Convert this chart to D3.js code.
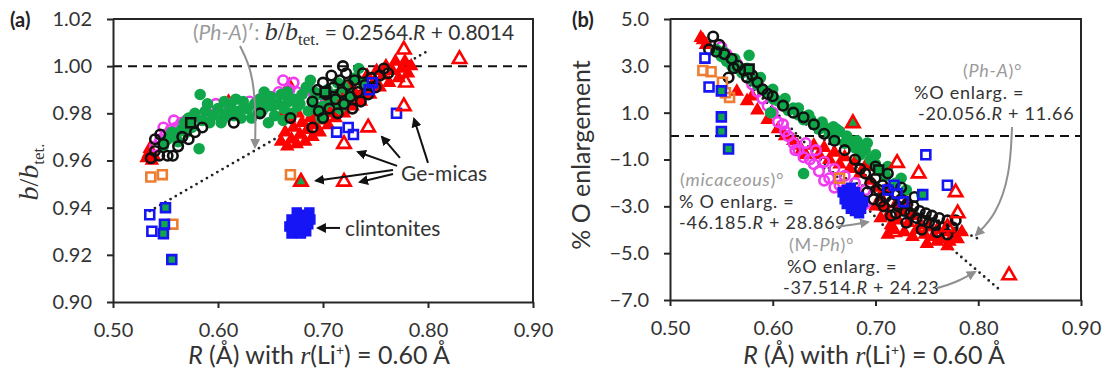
<!DOCTYPE html>
<html><head><meta charset="utf-8">
<script src="https://cdn.jsdelivr.net/npm/d3@7"></script>
<style>body{margin:0;background:#fff}svg{display:block}</style>
</head><body>
<svg id="chart" width="1104" height="376"></svg>
<script>
// ---------- tick values ----------
const xTicks = [0.50, 0.60, 0.70, 0.80, 0.90];
const aTicks = [0.90, 0.92, 0.94, 0.96, 0.98, 1.00, 1.02];
const bTicks = [-7, -5, -3, -1, 1, 3, 5];

// ---------- panel (a): b/b_tet. versus R ----------
const aRedTri = [[0.532,0.961],[0.534,0.963],[0.535,0.965],[0.537,0.960],[0.539,0.962],[0.610,0.985],
 [0.660,0.968],[0.664,0.972],[0.666,0.966],[0.670,0.969],[0.672,0.974],[0.675,0.967],[0.678,0.971],[0.680,0.976],
 [0.683,0.968],[0.685,0.973],[0.688,0.978],[0.690,0.970],[0.692,0.975],[0.695,0.980],[0.697,0.972],[0.700,0.977],
 [0.702,0.983],[0.705,0.975],[0.707,0.980],[0.710,0.986],[0.712,0.978],[0.715,0.983],[0.718,0.989],[0.720,0.980],
 [0.723,0.986],[0.726,0.992],[0.728,0.983],[0.731,0.988],[0.734,0.994],[0.736,0.985],[0.739,0.990],[0.742,0.996],
 [0.745,0.988],[0.748,0.993],[0.751,0.998],[0.754,0.991],[0.757,0.996],[0.760,1.000],[0.763,0.993],[0.766,0.998],
 [0.769,1.002],[0.772,0.995],[0.775,0.999],[0.778,1.002],[0.781,0.997],[0.784,1.000],[0.668,0.978],[0.676,0.980],
 [0.662,0.980],[0.668,0.992]];
const aMagenta = [[0.540,0.966],[0.545,0.969],[0.550,0.971],[0.555,0.973],[0.560,0.974],[0.565,0.976],[0.570,0.977],
 [0.575,0.978],[0.590,0.980],[0.600,0.981],[0.610,0.984],[0.620,0.983],[0.630,0.985],[0.640,0.986],[0.650,0.987],
 [0.658,0.989],[0.662,0.994],[0.668,0.990],[0.675,0.989],[0.685,0.991],[0.694,0.986],[0.700,0.988],[0.598,0.984],
 [0.635,0.981],[0.645,0.983],[0.548,0.974],[0.558,0.977],[0.568,0.973],[0.580,0.979],[0.615,0.980],[0.655,0.985],
 [0.672,0.993],[0.690,0.989]];
const aGreen = [[0.548,0.966],[0.552,0.969],[0.556,0.972],[0.560,0.970],[0.565,0.973],[0.568,0.976],[0.572,0.978],
 [0.575,0.974],[0.578,0.980],[0.582,0.965],[0.583,0.988],[0.585,0.977],[0.588,0.981],[0.592,0.976],[0.595,0.979],
 [0.600,0.982],[0.605,0.978],[0.608,0.980],[0.612,0.983],[0.615,0.979],[0.620,0.981],[0.624,0.985],[0.628,0.982],
 [0.632,0.978],[0.635,0.984],[0.640,0.986],[0.642,0.981],[0.646,0.983],[0.650,0.987],[0.654,0.979],[0.657,0.984],
 [0.660,0.988],[0.663,0.982],[0.667,0.985],[0.670,0.980],[0.673,0.986],[0.676,0.983],[0.680,0.988],[0.684,0.991],
 [0.688,0.994],[0.690,0.985],[0.694,0.982],[0.697,0.988],[0.700,0.983],[0.704,0.990],[0.708,0.985],[0.712,0.988],
 [0.716,0.982],[0.720,0.991],[0.725,0.988],[0.730,0.995],[0.734,0.999],[0.738,0.993],[0.603,0.976],[0.617,0.986],
 [0.638,0.980],[0.648,0.976],[0.662,0.977],[0.686,0.981],[0.698,0.978],[0.590,0.984],[0.606,0.985],[0.622,0.978],
 [0.644,0.989],[0.652,0.983],[0.666,0.989],[0.678,0.984],[0.692,0.989],[0.706,0.987],[0.714,0.993],[0.722,0.985],
 [0.570,0.972],[0.562,0.968]];
const aBlackCirc = [[0.536,0.961],[0.540,0.964],[0.544,0.962],[0.548,0.967],[0.552,0.962],[0.557,0.962],[0.562,0.966],
 [0.566,0.970],[0.572,0.969],[0.578,0.972],[0.585,0.974],[0.540,0.969],[0.545,0.971],[0.615,0.976],[0.640,0.980],
 [0.669,0.978],[0.690,0.974],[0.690,0.985],[0.695,0.990],[0.700,0.993],[0.703,0.988],[0.706,0.982],[0.708,0.996],
 [0.710,0.991],[0.712,0.986],[0.714,0.980],[0.716,0.994],[0.718,0.989],[0.720,0.984],[0.722,0.997],[0.724,0.992],
 [0.726,0.987],[0.728,0.982],[0.730,0.994],[0.733,0.989],[0.736,0.985],[0.738,0.997],[0.740,0.992],[0.743,0.988],
 [0.746,0.995],[0.750,0.991],[0.754,0.996],[0.758,0.999],[0.762,0.997],[0.700,0.978],[0.696,0.981],[0.719,1.000]];
const aBlackSq = [[0.574,0.976],[0.702,0.989]];
const aBlueSq = [[0.535,0.937],[0.537,0.930],[0.713,0.972],[0.724,0.974],[0.729,0.971],[0.770,0.980],[0.744,0.990],[0.747,0.993]];
const aBlueGreenSq = [[0.550,0.940],[0.549,0.933],[0.548,0.929],[0.556,0.918]];
const aOrangeSq = [[0.536,0.953],[0.547,0.954],[0.557,0.933],[0.669,0.954]];
const aRedOpenTri = [[0.777,1.007],[0.830,1.003],[0.779,0.993],[0.777,0.983],[0.743,0.974],[0.720,0.967],[0.720,0.951]];
const aRedGreenTri = [[0.679,0.951]];
const aClinton = [[0.668,0.932],[0.670,0.935],[0.672,0.930],[0.674,0.933],[0.676,0.936],[0.678,0.931],[0.680,0.934],
 [0.682,0.937],[0.684,0.930],[0.686,0.933],[0.688,0.935],[0.670,0.929],[0.675,0.938],[0.683,0.932],[0.687,0.938],[0.679,0.929]];
// (Ph-A)' fit: b/b_tet. = 0.2564 R + 0.8014
const aFit = {slope: 0.2564, intercept: 0.8014, from: 0.535, to: 0.800};

// ---------- panel (b): % O enlargement versus R ----------
const bRedTri = [[0.530,4.2],[0.532,4.1],[0.535,3.9],[0.575,1.5],[0.580,1.7],[0.620,-0.2],[0.624,-0.4],[0.628,-0.6],
 [0.640,-0.4],[0.645,-0.8],[0.650,-0.5],[0.655,-1.0],[0.660,-0.7],[0.665,-1.2],[0.670,-0.9],[0.675,-1.4],[0.680,-1.1],
 [0.685,-1.6],[0.690,-1.3],[0.695,-1.9],[0.700,-2.2],[0.705,-2.6],[0.708,-3.0],[0.712,-3.4],[0.715,-3.8],[0.718,-4.0],
 [0.722,-3.6],[0.725,-3.2],[0.728,-4.1],[0.732,-3.7],[0.736,-3.4],[0.740,-4.0],[0.744,-3.8],[0.748,-4.2],[0.752,-3.9],
 [0.756,-4.3],[0.760,-4.0],[0.764,-4.4],[0.768,-4.1],[0.772,-4.5],[0.776,-4.2],[0.780,-4.4],[0.784,-4.1],[0.720,-2.9],
 [0.730,-2.8],[0.710,-2.3],[0.565,1.9],[0.585,1.1],[0.595,0.7],[0.605,0.3],[0.612,0.0],[0.632,-0.8],[0.700,-3.0],
 [0.705,-3.5],[0.712,-4.2],[0.736,-4.3],[0.750,-4.6],[0.760,-4.5],[0.770,-4.7]];
const bMagenta = [[0.550,3.8],[0.555,3.5],[0.560,3.3],[0.565,3.1],[0.570,2.8],[0.575,2.5],[0.580,2.2],[0.590,1.6],
 [0.600,1.0],[0.605,0.6],[0.610,0.5],[0.615,0.0],[0.620,-0.3],[0.625,-0.6],[0.630,-0.9],[0.632,-0.3],[0.640,-1.2],
 [0.642,-0.6],[0.645,-1.5],[0.650,-1.1],[0.650,-1.9],[0.655,-1.8],[0.660,-1.4],[0.665,-2.1],[0.670,-1.7],[0.675,-2.4],
 [0.680,-2.0],[0.685,-2.7],[0.690,-2.3],[0.585,1.9],[0.595,1.3],[0.612,0.2],[0.622,-0.6],[0.636,-1.0],[0.660,-2.2],
 [0.670,-2.3],[0.680,-2.6],[0.690,-2.9]];
const bGreen = [[0.545,3.7],[0.550,3.4],[0.555,3.2],[0.560,3.0],[0.565,2.9],[0.570,2.7],[0.577,3.45],[0.580,2.4],
 [0.585,2.2],[0.590,2.0],[0.595,1.9],[0.598,1.0],[0.600,1.6],[0.605,1.5],[0.610,1.3],[0.615,1.1],[0.620,1.2],[0.625,0.9],
 [0.630,0.7],[0.635,0.9],[0.640,0.5],[0.645,0.3],[0.650,0.4],[0.655,0.1],[0.659,0.4],[0.660,-0.1],[0.665,0.2],
 [0.670,-0.3],[0.675,-0.2],[0.680,-0.5],[0.685,-0.8],[0.688,-0.5],[0.690,-0.6],[0.695,-1.0],[0.700,-1.2],[0.705,-1.5],
 [0.710,-1.7],[0.720,-2.0],[0.730,-2.3],[0.745,-2.5],[0.630,-1.6],[0.552,3.6],[0.563,3.3],[0.575,2.9],[0.588,2.5],
 [0.600,2.0],[0.612,1.6],[0.625,1.2],[0.637,0.7],[0.648,0.6],[0.662,0.3],[0.672,0.0],[0.682,-0.2],[0.692,-0.3],
 [0.700,-0.8],[0.712,-1.3],[0.725,-1.8]];
const bBlackCirc = [[0.542,4.25],[0.548,3.9],[0.538,3.7],[0.553,3.5],[0.557,2.5],[0.560,3.3],[0.566,3.0],[0.572,2.8],
 [0.580,2.6],[0.585,2.3],[0.590,2.0],[0.600,1.7],[0.620,1.0],[0.640,0.5],[0.660,-0.2],[0.670,-0.6],[0.680,-1.0],
 [0.685,-1.4],[0.690,-1.6],[0.695,-2.0],[0.700,-1.8],[0.703,-2.3],[0.707,-2.1],[0.710,-2.6],[0.713,-2.3],[0.716,-2.8],
 [0.719,-2.5],[0.722,-3.0],[0.725,-2.7],[0.728,-3.2],[0.731,-2.9],[0.734,-3.3],[0.737,-3.0],[0.740,-3.5],[0.743,-3.2],
 [0.746,-3.6],[0.749,-3.3],[0.752,-3.7],[0.755,-3.4],[0.758,-3.8],[0.762,-3.5],[0.766,-3.9],[0.770,-3.6],[0.775,-3.9],
 [0.712,-1.6],[0.700,-1.3],[0.725,-2.2],[0.738,-2.6],[0.705,-2.8],[0.720,-3.3],[0.545,3.6],[0.562,2.9],[0.575,2.5],
 [0.595,1.8],[0.610,1.3],[0.630,0.8],[0.650,0.1],[0.692,-2.4],[0.698,-2.7],[0.708,-3.0],[0.715,-3.4],[0.730,-3.7],
 [0.745,-4.0],[0.760,-4.1],[0.770,-4.2],[0.778,-3.6]];
const bBlackSq = [[0.577,2.86],[0.703,-1.45]];
const bBlueSq = [[0.534,3.33],[0.538,2.1],[0.749,-0.8],[0.770,-2.1],[0.712,-2.3],[0.721,-2.45],[0.727,-2.8],[0.718,-2.1]];
const bBlueGreenSq = [[0.550,1.93],[0.550,0.82],[0.550,0.2],[0.557,-0.55],[0.746,-2.5]];
const bOrangeSq = [[0.532,2.8],[0.540,2.75],[0.551,2.3],[0.554,1.85],[0.558,1.65],[0.665,-1.8]];
const bRedOpenTri = [[0.721,-1.15],[0.742,-1.6],[0.778,-2.4],[0.780,-3.3],[0.830,-5.95],[0.718,-4.1],[0.770,-3.9]];
const bRedGreenTri = [[0.678,0.55]];
const bClinton = [[0.668,-2.4],[0.672,-2.3],[0.676,-2.2],[0.680,-2.4],[0.684,-2.6],[0.670,-2.7],[0.674,-2.6],[0.678,-2.8],
 [0.682,-2.9],[0.686,-3.1],[0.676,-3.1],[0.680,-3.2],[0.684,-3.3],[0.688,-2.8],[0.672,-2.9]];
// linear fits: % O enlarg. = slope R + intercept
const bFits = [
  {name: "Ph-A", slope: -20.056, intercept: 11.66, from: 0.650, to: 0.800},
  {name: "micaceous", slope: -46.185, intercept: 28.869, from: 0.530, to: 0.717},
  {name: "M-Ph", slope: -37.514, intercept: 24.23, from: 0.535, to: 0.820}
];

// ---------- styling ----------
const SANS = "Lato, 'Open Sans', sans-serif";
const SERIF = "'Liberation Serif', 'DejaVu Serif', serif";
const TXT = "#333333";
const GRAY = "#9b9b9b";
const AX = "#262626";
const C = {red: "#ff0000", green: "#10a64a", magenta: "#f03cf0", blue: "#1515f5", orange: "#ee7d31", black: "#111111"};

const svg = d3.select("#chart");
const defs = svg.append("defs");
function arrowMarker(id, color) {
  defs.append("marker").attr("id", id).attr("viewBox", "0 0 10 10").attr("refX", 8).attr("refY", 5)
    .attr("markerWidth", 5).attr("markerHeight", 5).attr("orient", "auto")
    .append("path").attr("d", "M0,0L10,5L0,10z").attr("fill", color);
}
arrowMarker("headBlack", "#111");
arrowMarker("headGray", "#8f8f8f");

// scales
const xA = d3.scaleLinear([0.5, 0.9], [113, 533]);
const yA = d3.scaleLinear([0.90, 1.02], [302, 19]);
const xB = d3.scaleLinear([0.5, 0.9], [670, 1081]);
const yB = d3.scaleLinear([-7, 5], [300, 19]);

function frame(xs, ys, xTickVals, yTickVals, yFmt) {
  const g = svg.append("g");
  const [x0, x1] = xs.range(), [y0, y1] = ys.range();
  const ya = g.append("g").attr("transform", `translate(${x0},0)`)
    .call(d3.axisLeft(ys).tickValues(yTickVals).tickFormat(yFmt).tickSize(6).tickSizeOuter(0).tickPadding(15));
  const xa = g.append("g").attr("transform", `translate(0,${y0})`)
    .call(d3.axisBottom(xs).tickValues(xTickVals).tickFormat(d3.format(".2f")).tickSize(6).tickSizeOuter(0).tickPadding(15));
  [ya, xa].forEach(a => {
    a.select(".domain").attr("stroke", AX).attr("stroke-width", 2);
    a.selectAll(".tick line").attr("stroke", AX).attr("stroke-width", 2);
    a.selectAll(".tick text").attr("font-family", SANS).attr("font-size", 20).attr("fill", TXT);
  });
  // top and right borders of the plot box
  g.append("path").attr("d", `M${x0},${y1}H${x1}V${y0}`).attr("fill", "none").attr("stroke", AX).attr("stroke-width", 2);
}

function refLine(xs, ys, v) {
  svg.append("line").attr("x1", xs.range()[0]).attr("x2", xs.range()[1])
    .attr("y1", ys(v)).attr("y2", ys(v)).attr("stroke", "#111").attr("stroke-width", 2).attr("stroke-dasharray", "9,6");
}

function fitLine(xs, ys, f) {
  svg.append("line").attr("x1", xs(f.from)).attr("y1", ys(f.slope * f.from + f.intercept))
    .attr("x2", xs(f.to)).attr("y2", ys(f.slope * f.to + f.intercept))
    .attr("stroke", "#222").attr("stroke-width", 2.8).attr("stroke-linecap", "round").attr("stroke-dasharray", "0,6");
}

function symbols(xs, ys, data, kind, size, fill, stroke, sw) {
  svg.append("g").selectAll("path").data(data).join("path")
    .attr("transform", d => `translate(${xs(d[0])},${ys(d[1])})`)
    .attr("d", d3.symbol(kind, size)())
    .attr("fill", fill).attr("stroke", stroke).attr("stroke-width", sw);
}

function drawSeries(xs, ys, s) {
  symbols(xs, ys, s.redTri, d3.symbolTriangle, 62, C.red, C.red, 1.5);
  symbols(xs, ys, s.magenta, d3.symbolCircle, 72, "none", C.magenta, 2.6);
  symbols(xs, ys, s.green, d3.symbolCircle, 105, C.green, "none", 0);
  symbols(xs, ys, s.blackCirc, d3.symbolCircle, 72, "none", C.black, 2.6);
  symbols(xs, ys, s.clinton, d3.symbolSquare, 80, C.blue, C.blue, 1.5);
  symbols(xs, ys, s.orangeSq, d3.symbolSquare, 80, "none", C.orange, 2.6);
  symbols(xs, ys, s.blueSq, d3.symbolSquare, 80, "none", C.blue, 2.6);
  symbols(xs, ys, s.blueGreenSq, d3.symbolSquare, 80, C.green, C.blue, 2.6);
  symbols(xs, ys, s.blackSq, d3.symbolSquare, 80, C.green, C.black, 2.6);
  symbols(xs, ys, s.redOpenTri, d3.symbolTriangle, 78, "none", C.red, 2.6);
  symbols(xs, ys, s.redGreenTri, d3.symbolTriangle, 78, C.green, C.red, 2.6);
}

function arrow(pts, head, color, curve) {
  const line = d3.line().curve(curve || d3.curveLinear);
  svg.append("path").attr("d", line(pts)).attr("fill", "none").attr("stroke", color)
    .attr("stroke-width", 2).attr("marker-end", `url(#${head})`);
}

// one <text> element; each line is an array of styled parts
function label(x, y, lines, opt = {}) {
  const t = svg.append("text").attr("x", x).attr("y", y).attr("font-family", SANS)
    .attr("font-size", opt.size || 20).attr("fill", opt.fill || TXT).attr("text-anchor", opt.anchor || "start");
  if (opt.ls) t.attr("letter-spacing", opt.ls);
  if (opt.transform) t.attr("transform", opt.transform);
  lines.forEach((parts, li) => {
    parts.forEach((p, pi) => {
      const s = t.append("tspan").text(p.t);
      if (pi === 0 && li > 0) s.attr("x", x + (opt.dx ? opt.dx[li] : 0)).attr("dy", opt.lh || 20);
      else if (p.dy) s.attr("dy", p.dy);
      if (p.i) s.attr("font-style", "italic");
      if (p.b) s.attr("font-weight", "bold");
      if (p.f) s.attr("font-family", p.f);
      if (p.s) s.attr("font-size", p.s);
      if (p.c) s.attr("fill", p.c);
    });
  });
  return t;
}

// ===== panel (a) =====
refLine(xA, yA, 1.00);
fitLine(xA, yA, aFit);
drawSeries(xA, yA, {redTri: aRedTri, magenta: aMagenta, green: aGreen, blackCirc: aBlackCirc, clinton: aClinton,
  orangeSq: aOrangeSq, blueSq: aBlueSq, blueGreenSq: aBlueGreenSq, blackSq: aBlackSq, redOpenTri: aRedOpenTri, redGreenTri: aRedGreenTri});
frame(xA, yA, xTicks, aTicks, d3.format(".2f"));

label(10, 27, [[{t: "(a)", b: 1}]], {size: 20, fill: "#222"});
label(193, 40, [[
  {t: "(", c: GRAY, s: 21}, {t: "Ph-A", c: GRAY, i: 1, s: 21}, {t: ")′: ", c: GRAY, s: 21},
  {t: "b", f: SERIF, i: 1, s: 26}, {t: "/", f: SERIF, s: 26}, {t: "b", f: SERIF, i: 1, s: 26},
  {t: "tet.", f: SERIF, s: 17, dy: 5}, {t: " = 0.2564.", dy: -5}, {t: "R", i: 1}, {t: " + 0.8014"}
]], {size: 21});
arrow([[240, 46], [252, 70], [256, 110], [255, 147]], "headGray", "#8f8f8f", d3.curveBasis);

label(401, 181, [[{t: "Ge-micas"}]], {size: 21});
const geArrows = [
  [[0.800, 0.9590], [0.7867, 0.9776]],
  [[0.7733, 0.9611], [0.7562, 0.9700]],
  [[0.7705, 0.9577], [0.7333, 0.9636]],
  [[0.7667, 0.9560], [0.6933, 0.9514]],
  [[0.7667, 0.9543], [0.7352, 0.9509]]
];
geArrows.forEach(a => arrow(a.map(p => [xA(p[0]), yA(p[1])]), "headBlack", "#111"));
label(345, 236, [[{t: "clintonites"}]], {size: 21});
arrow([[xA(0.7162), yA(0.9314)], [xA(0.6952), yA(0.9314)]], "headBlack", "#111");

// y title (a)
label(0, 0, [[{t: "b", f: SERIF, i: 1}, {t: "/", f: SERIF}, {t: "b", f: SERIF, i: 1}, {t: "tet.", f: SERIF, s: 17, dy: 6}]],
  {size: 28, anchor: "middle", transform: "translate(38,172) rotate(-90)"});

function xTitle(cx) {
  label(cx, 364, [[{t: "R", i: 1}, {t: " (Å) with "}, {t: "r", f: SERIF, i: 1, s: 26}, {t: "(Li"},
    {t: "+", s: 14, dy: -9}, {t: ") = 0.60 Å", dy: 9}]], {size: 25, anchor: "middle"});
}
xTitle(319);

// ===== panel (b) =====
refLine(xB, yB, 0);
bFits.forEach(f => fitLine(xB, yB, f));
drawSeries(xB, yB, {redTri: bRedTri, magenta: bMagenta, green: bGreen, blackCirc: bBlackCirc, clinton: bClinton,
  orangeSq: bOrangeSq, blueSq: bBlueSq, blueGreenSq: bBlueGreenSq, blackSq: bBlackSq, redOpenTri: bRedOpenTri, redGreenTri: bRedGreenTri});
frame(xB, yB, xTicks, bTicks, d3.format(".1f"));

label(572, 27, [[{t: "(b)", b: 1}]], {size: 20, fill: "#222"});
label(0, 0, [[{t: "% O enlargement"}]], {size: 25, anchor: "middle", transform: "translate(590,155) rotate(-90)"});
xTitle(874);

// fit labels (three lines each)
const fitLabelStyle = {size: 18, ls: 0.75, lh: 21.6};
label(963, 77, [
  [{t: "(", c: GRAY}, {t: "Ph-A", c: GRAY, i: 1}, {t: ")°", c: GRAY}],
  [{t: "%O enlarg. ="}],
  [{t: "-20.056."}, {t: "R", i: 1}, {t: " + 11.66"}]
], Object.assign({dx: [0, -49, -45]}, fitLabelStyle));
arrow([[1012, 127], [1010, 175], [996, 215], [976, 235]], "headGray", "#8f8f8f", d3.curveBasis);

label(680, 186, [
  [{t: "(", c: GRAY}, {t: "micaceous", c: GRAY, i: 1}, {t: ")°", c: GRAY}],
  [{t: "% O enlarg. ="}],
  [{t: "-46.185."}, {t: "R", i: 1}, {t: " + 28.869"}]
], Object.assign({dx: [0, -1, -1]}, fitLabelStyle));
arrow([[836, 227], [852, 225], [868, 222]], "headGray", "#8f8f8f", d3.curveBasis);

label(789, 251, [
  [{t: "(M-", c: GRAY}, {t: "Ph", c: GRAY, i: 1}, {t: ")°", c: GRAY}],
  [{t: "%O enlarg. ="}],
  [{t: "-37.514."}, {t: "R", i: 1}, {t: " + 24.23"}]
], Object.assign({dx: [0, -2, -6]}, fitLabelStyle));
arrow([[937, 288], [955, 283], [975, 272]], "headGray", "#8f8f8f", d3.curveBasis);
</script>
</body></html>
